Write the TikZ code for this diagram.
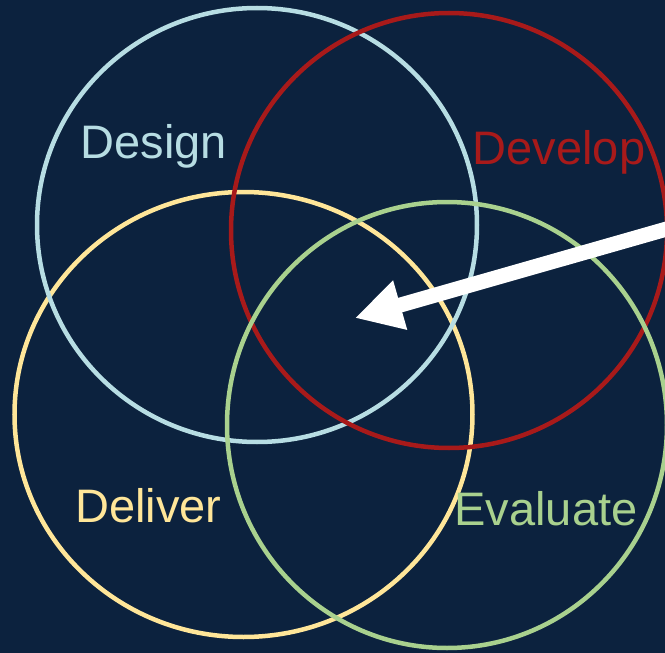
\documentclass[tikz,border=0pt]{standalone}
\usepackage{fontspec}
\setmainfont{Liberation Sans}
\usetikzlibrary{shapes.geometric,arrows.meta}
\definecolor{bg}{HTML}{0C223E}
\definecolor{designc}{HTML}{B7DDE3}
\definecolor{developc}{HTML}{A81A1A}
\definecolor{deliverc}{HTML}{FFE699}
\definecolor{evaluatec}{HTML}{A9D18E}
\begin{document}
\begin{tikzpicture}[x=1pt,y=-1pt,
  ring/.style={draw, ellipse, line width=4.5pt, inner sep=0pt},
  lbl/.style={font=\fontsize{47}{56}\selectfont, anchor=base, inner sep=0pt}]
\fill[bg] (0,0) rectangle (665,653);
\useasboundingbox (0,0) rectangle (665,653);
\clip (0,0) rectangle (665,653);
\node[ring, draw=deliverc, minimum width=458pt, minimum height=445pt] (deliver) at (243.5,414.5) {};
\node[ring, draw=designc, minimum width=440pt, minimum height=434pt] (design) at (257,225) {};
\node[ring, draw=developc, minimum width=436pt, minimum height=435pt] (develop) at (449,230.5) {};
\node[ring, draw=evaluatec, minimum width=440pt, minimum height=446pt] (evaluate) at (447,425) {};
\node[lbl, text=designc] (tdesign) at (154,158) {Design};
\node[lbl, text=developc] (tdevelop) at (559,164) {Develop};
\node[lbl, text=deliverc] (tdeliver) at (148.5,522) {Deliver};
\node[lbl, text=evaluatec] (tevaluate) at (546,525) {Evaluate};
\coordinate (arrowstart) at (675,226.6);
\coordinate (arrowtip) at (355,318);
\draw[white, line width=15pt, -{Triangle[length=47pt,width=48pt]}] (arrowstart) -- (arrowtip);
\end{tikzpicture}
\end{document}
